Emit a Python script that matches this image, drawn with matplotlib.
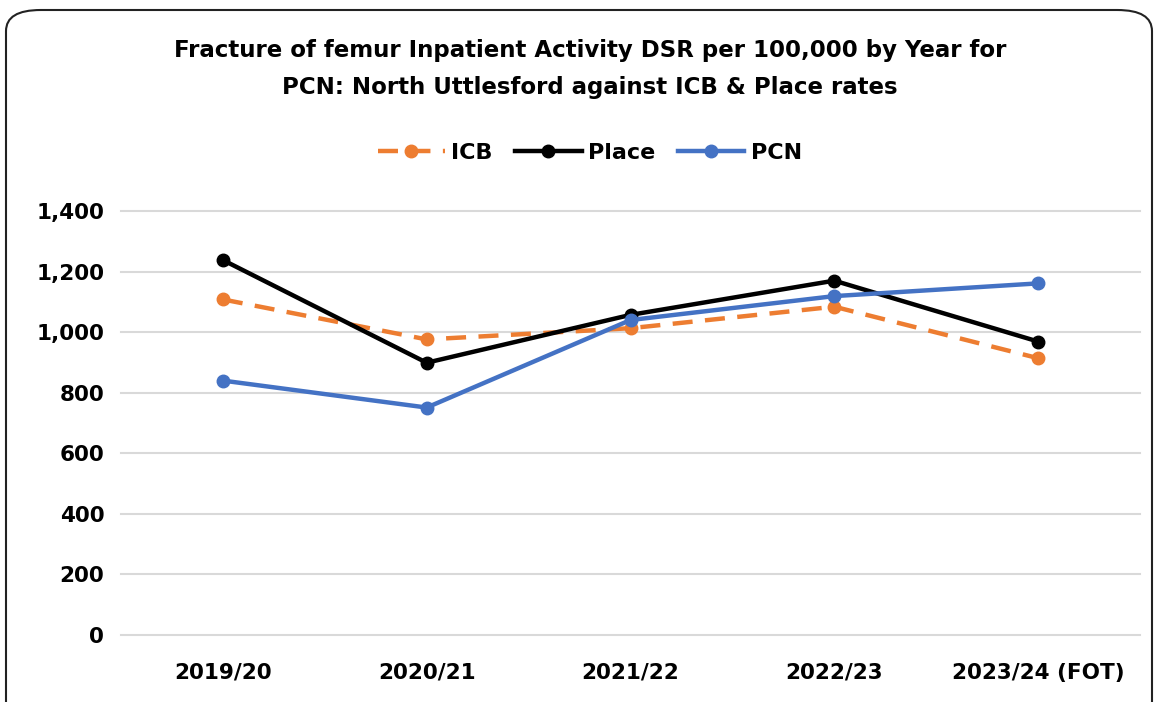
import matplotlib
matplotlib.use("Agg")
import matplotlib.pyplot as plt
from matplotlib.patches import FancyBboxPatch

years = ["2019/20", "2020/21", "2021/22", "2022/23", "2023/24 (FOT)"]
icb = [1108, 976, 1013, 1084, 914]
place = [1238, 899, 1057, 1170, 969]
pcn = [840, 751, 1040, 1119, 1161]
yticks = [0, 200, 400, 600, 800, 1000, 1200, 1400]

plt.rcParams['font.family'] = ['DejaVu Sans']
plt.rcParams['font.weight'] = 'bold'

fig = plt.figure(figsize=(11.58, 7.02), dpi=100)
ax = fig.add_axes([121/1158, 1 - 635/702, (1140-121)/1158, (635-211)/702])

x = list(range(len(years)))
ax.plot(x, icb, color='#ED7D31', lw=3.2, ls=(0, (4.5, 2.8)), marker='o', ms=9, label='ICB', zorder=3)
ax.plot(x, place, color='#000000', lw=3.2, marker='o', ms=9, label='Place', zorder=4)
ax.plot(x, pcn, color='#4472C4', lw=3.2, marker='o', ms=9, label='PCN', zorder=5)

ax.set_xlim(-0.5, len(years) - 0.5)
ax.set_ylim(0, 1400)
ax.set_yticks(yticks)
ax.set_yticklabels([f"{v:,}" for v in yticks], fontsize=15.5, fontweight='bold')
ax.set_xticks(x)
ax.set_xticklabels(years, fontsize=15.5, fontweight='bold')
ax.tick_params(axis='both', length=0, pad=12)
ax.tick_params(axis='x', pad=20)
for gl in ax.yaxis.get_gridlines():
    gl.set_clip_on(False)
ax.grid(axis='y', color='#D9D9D9', lw=1.5)
for gl in ax.yaxis.get_gridlines():
    gl.set_clip_on(False)
ax.set_axisbelow(True)
for s in ax.spines.values():
    s.set_visible(False)

fig.text(590/1158, 1 - 69/702,
         "Fracture of femur Inpatient Activity DSR per 100,000 by Year for\nPCN: North Uttlesford against ICB & Place rates",
         ha='center', va='center', fontsize=16.5, fontweight='bold', linespacing=1.75)

leg = fig.legend(loc='center', bbox_to_anchor=(590/1158, 1 - 153/702), ncol=3, frameon=False,
                 handlelength=3.0, columnspacing=1.0, handletextpad=0.3,
                 prop={'weight': 'bold', 'size': 16})

border = FancyBboxPatch((6/1158, -0.05), 1146/1158, (1 - 10/702) + 0.05,
                        boxstyle="round,pad=0,rounding_size=0.03",
                        transform=fig.transFigure, fill=False, ec='#222222', lw=1.5, clip_on=False)
fig.patches.append(border)

fig.savefig("out.png", dpi=100)
